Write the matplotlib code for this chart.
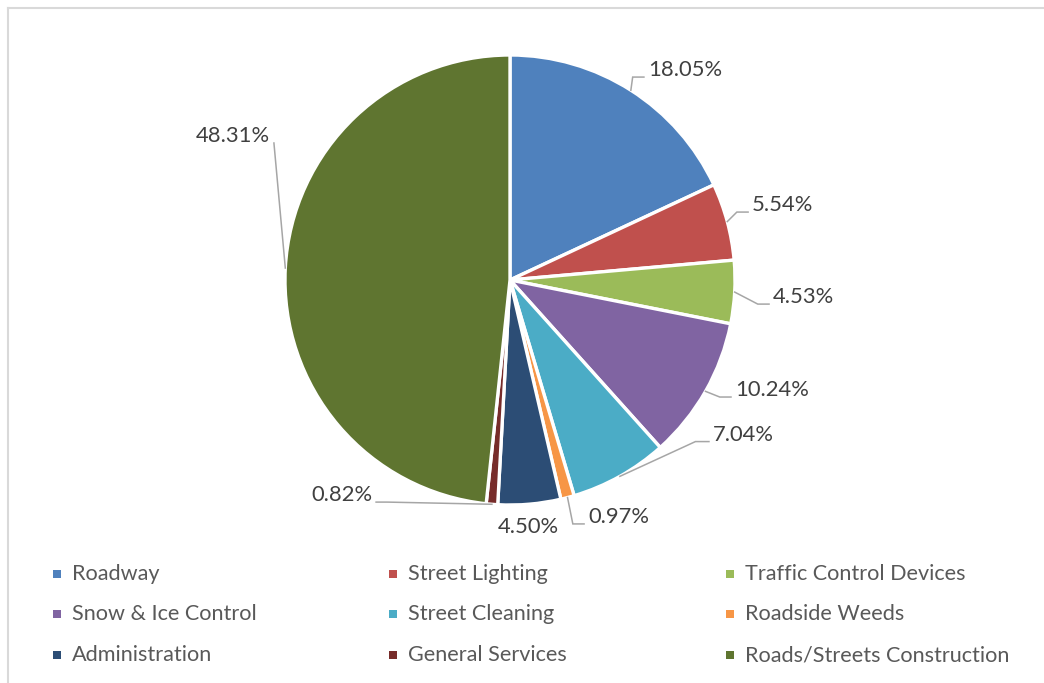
import numpy as np
import matplotlib
matplotlib.use("Agg")
import matplotlib.pyplot as plt
from matplotlib.patches import Rectangle
from matplotlib.lines import Line2D

categories = ["Roadway", "Street Lighting", "Traffic Control Devices",
              "Snow & Ice Control", "Street Cleaning", "Roadside Weeds",
              "Administration", "General Services", "Roads/Streets Construction"]
shares = [18.05, 5.54, 4.53, 10.24, 7.04, 0.97, 4.50, 0.82, 48.31]
colors = ["#4F81BD", "#C0504D", "#9BBB59", "#8064A2", "#4BACC6",
          "#F79646", "#2C4D75", "#772C2A", "#5F7530"]

# label placement (radius units) - layout only
label_xy = [(0.613, 0.933), (1.076, 0.333), (1.169, -0.076), (1.0, -0.489),
            (0.902, -0.687), (0.347, -1.053), (0.08, -1.098), (-0.613, -0.956),
            (-1.067, 0.64)]
label_ha = ["left", "left", "left", "left", "left", "left", "center", "right", "right"]
elbow = [0.05, 0.05, 0.05, 0.05, 0.06, 0.05, None, 0.05, 0.0]

W, H = 1044, 683
fig = plt.figure(figsize=(W / 100, H / 100), dpi=100)
plt.rcParams['font.family'] = ['Lato', 'DejaVu Sans']

cx, cy, R = 510, 280, 225
ax = fig.add_axes([(cx - R) / W, (H - cy - R) / H, 2 * R / W, 2 * R / H])
ax.pie(shares, colors=colors, startangle=90, counterclock=False, radius=1,
       wedgeprops=dict(edgecolor="white", linewidth=2.4))
ax.set_xlim(-1, 1)
ax.set_ylim(-1, 1)
ax.set_aspect("equal")
ax.axis("off")

cum = np.cumsum([0] + shares[:-1])
gray = "#A6A6A6"
px = 1 / R
for i, v in enumerate(shares):
    ang = np.deg2rad(90 - (cum[i] + v / 2) / 100 * 360)
    ax0, ay0 = np.cos(ang), np.sin(ang)
    tx, ty = label_xy[i]
    ax.text(tx, ty, "%.2f%%" % v, ha=label_ha[i], va="center",
            fontsize=15.8, color="#404040", clip_on=False)
    if elbow[i] is None:
        continue
    ly = ty - 7 * px
    if label_ha[i] == "left":
        ex = tx - 4 * px
        bx = ex - elbow[i]
    else:
        ex = tx + 4 * px
        bx = ex + elbow[i]
    ax.plot([ax0, bx, ex], [ay0, ly, ly], color=gray, lw=1.1,
            clip_on=False, solid_joinstyle="miter")

# legend, three columns
col_x = [57, 393, 730]
row_y = [574, 614, 655]
for i, (name, c) in enumerate(zip(categories, colors)):
    x = col_x[i % 3]
    y = row_y[i // 3]
    fig.patches.append(Rectangle(((x - 4) / W, 1 - (y + 4) / H), 8 / W, 8 / H,
                                 facecolor=c, edgecolor="none",
                                 transform=fig.transFigure))
    fig.text((x + 15) / W, 1 - y / H, name, ha="left", va="center",
             fontsize=15.6, color="#595959")

# chart area border (top and left visible)
fig.add_artist(Line2D([7.5 / W, 7.5 / W], [0, 1 - 8 / H], color="#D9D9D9", lw=1.5,
                      transform=fig.transFigure))
fig.add_artist(Line2D([7.5 / W, 1], [1 - 8 / H, 1 - 8 / H], color="#D9D9D9", lw=1.5,
                      transform=fig.transFigure))

fig.savefig("out.png", dpi=100)
